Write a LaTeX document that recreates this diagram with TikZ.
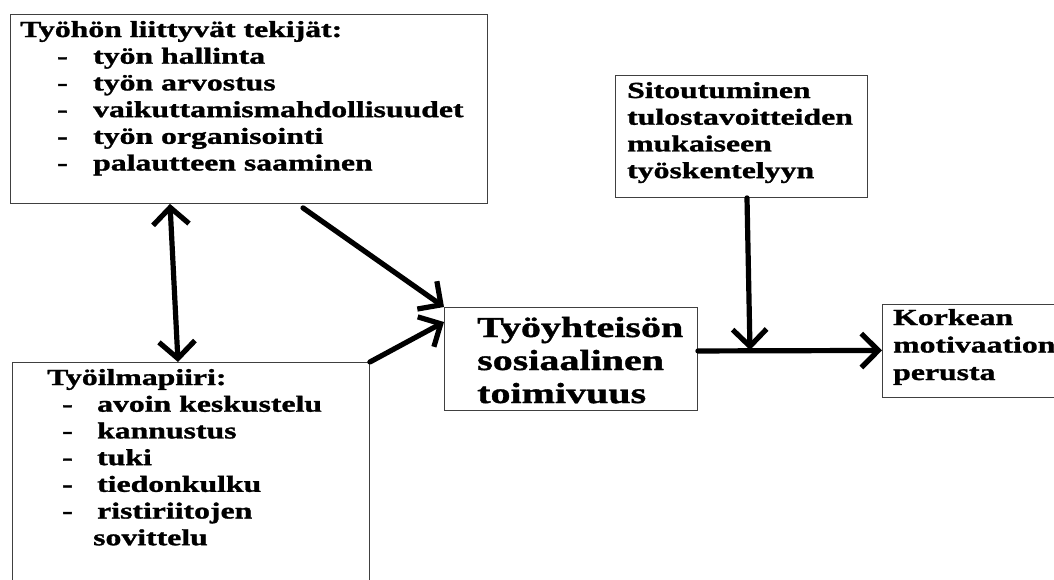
\documentclass[tikz,border=0pt]{standalone}
\usepackage{fontspec}
\setmainfont{Liberation Serif}[FakeStretch=1.38, BoldFeatures={FakeBold=1.3}]
\usetikzlibrary{arrows.meta}
\newcommand\dashitem[3]{\makebox[#2][l]{\hspace{#1}-}#3}
\begin{document}
\begin{tikzpicture}[x=1pt,y=-1pt,
  box/.style={draw=black!75, line width=0.9pt, rectangle, inner sep=0pt, anchor=north west},
  txt/.style={inner sep=0pt, anchor=base west, font=\bfseries\fontsize{23}{26.7}\selectfont},
  bigtxt/.style={inner sep=0pt, anchor=base west, font=\bfseries\fontsize{29}{33}\selectfont},
  arr/.style={line width=5.2pt, line cap=round, -{Straight Barb[length=17pt,width=34pt]}},
  darr/.style={line width=5.2pt, {Straight Barb[length=17pt,width=36pt]}-{Straight Barb[length=17pt,width=36pt]}}]
\useasboundingbox (0,0) rectangle (1054,579);
\fill[white] (0,0) rectangle (1054,579);
\clip (0,0) rectangle (1054,579);

% boxes
\node[box, minimum width=477pt, minimum height=189pt] (b1) at (10,14) {};
\node[box, minimum width=357pt, minimum height=260pt] (b2) at (12,362) {};
\node[box, minimum width=253pt, minimum height=103pt] (c) at (444,307) {};
\node[box, minimum width=252pt, minimum height=122pt] (s) at (615,75) {};
\node[box, minimum width=220pt, minimum height=93pt] (k) at (882,304) {};

% texts
\node[txt] (t1) at (20,37) {\begin{tabular}[t]{@{}l@{}}
Työhön liittyvät tekijät:\\
\dashitem{37pt}{73pt}{työn hallinta}\\
\dashitem{37pt}{73pt}{työn arvostus}\\
\dashitem{37pt}{73pt}{vaikuttamismahdollisuudet}\\
\dashitem{37pt}{73pt}{työn organisointi}\\
\dashitem{37pt}{73pt}{palautteen saaminen}
\end{tabular}};

\node[txt] (t2) at (47,385) {\begin{tabular}[t]{@{}l@{}}
Työilmapiiri:\\
\dashitem{15pt}{50pt}{avoin keskustelu}\\
\dashitem{15pt}{50pt}{kannustus}\\
\dashitem{15pt}{50pt}{tuki}\\
\dashitem{15pt}{50pt}{tiedonkulku}\\
\dashitem{15pt}{50pt}{ristiriitojen}\\
\hspace{46pt}sovittelu
\end{tabular}};

\node[bigtxt] (tc) at (477,337) {\begin{tabular}[t]{@{}l@{}}
Työyhteisön\\ sosiaalinen\\ toimivuus
\end{tabular}};

\node[txt] (ts) at (627,98) {\begin{tabular}[t]{@{}l@{}}
Sitoutuminen\\ tulostavoitteiden\\ mukaiseen\\ työskentelyyn
\end{tabular}};

\node[txt, font=\bfseries\fontsize{23}{27.5}\selectfont] (tk) at (893,325) {\begin{tabular}[t]{@{}l@{}}
Korkean\\ motivaation\\ perusta
\end{tabular}};

% connectors
\coordinate (j) at (750,350);
\draw[darr] ([xshift=160pt]b1.south west) -- ([xshift=166pt]b2.north west);
\draw[arr] ([xshift=293pt,yshift=-4pt]b1.south west) -- (c.north west);
\draw[arr] (b2.north east) -- ([yshift=-15pt]c.north west);
\draw[arr] ([xshift=132pt]s.south west) -- (j);
\draw[arr] ([yshift=8pt]c.east) -- ([yshift=0.5pt]k.west);
\end{tikzpicture}
\end{document}
